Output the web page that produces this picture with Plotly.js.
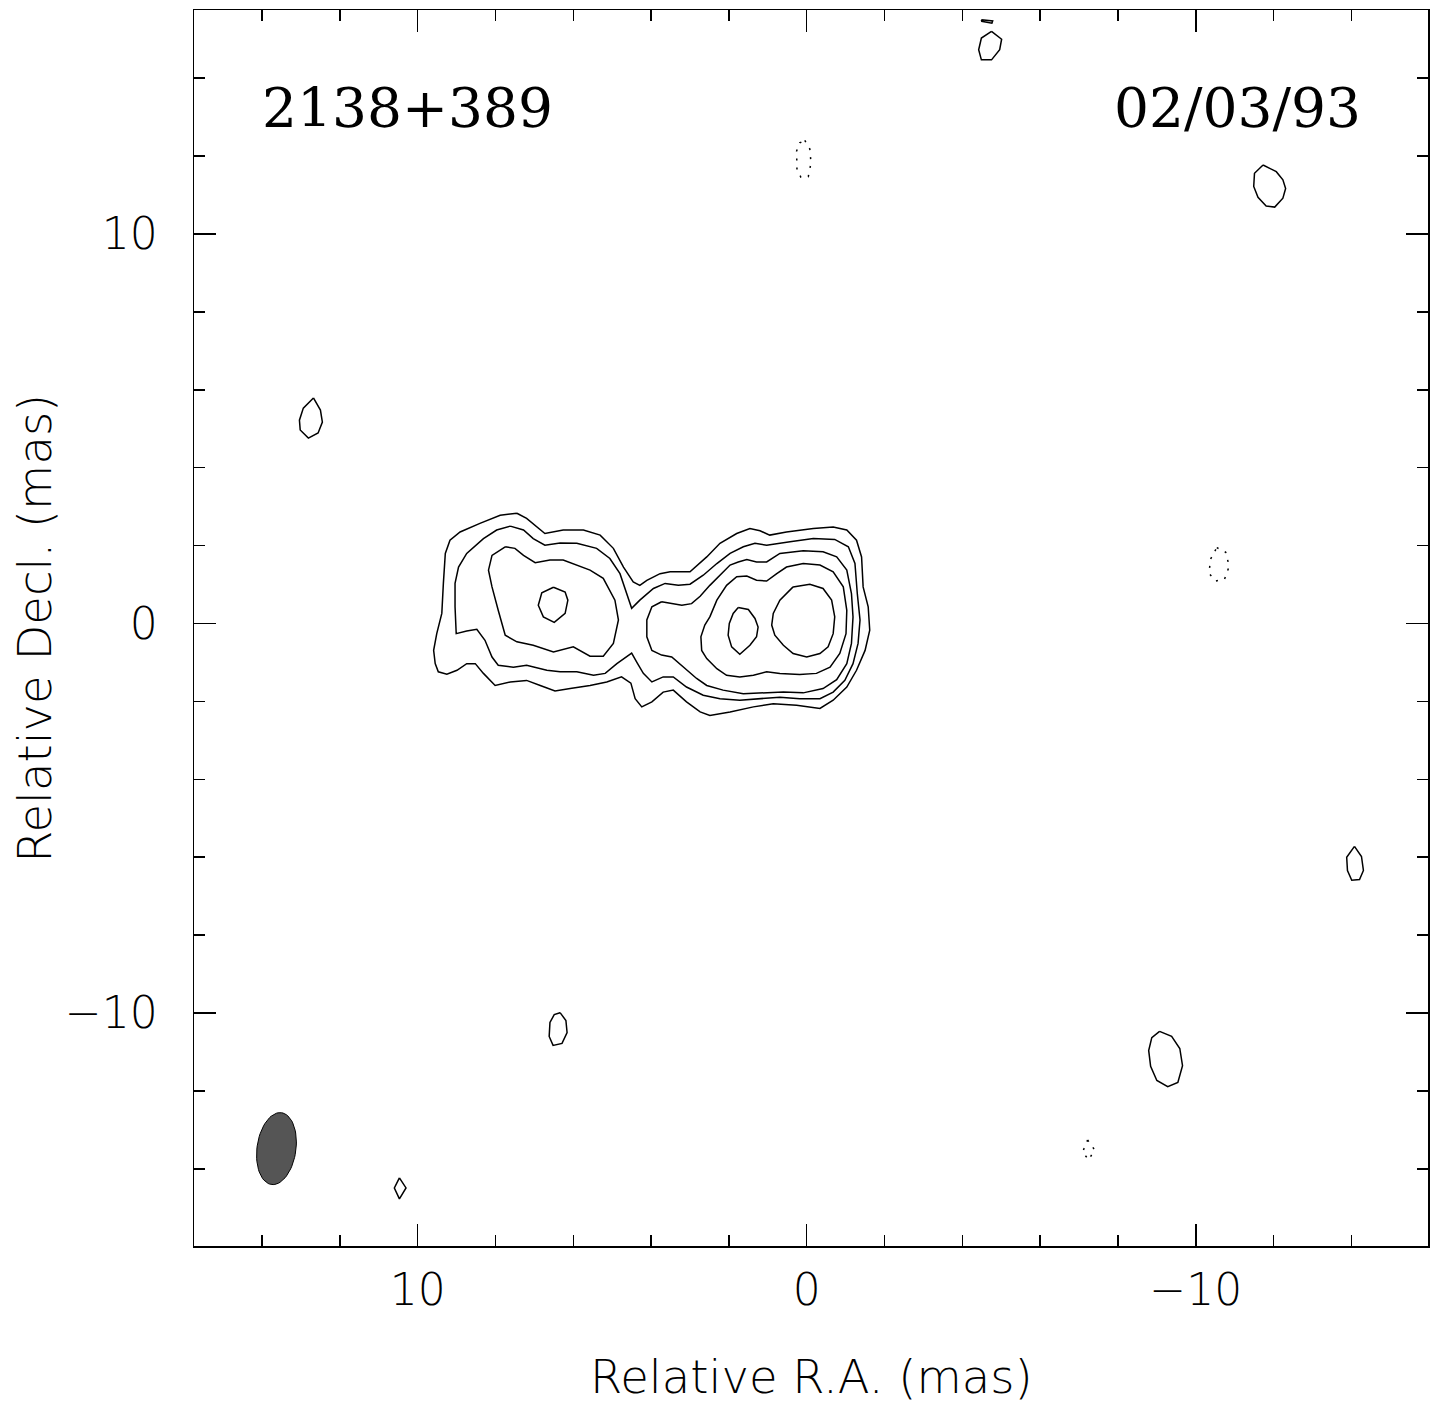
<!DOCTYPE html>
<html><head><meta charset="utf-8">
<script src="https://cdn.plot.ly/plotly-3.0.1.min.js"></script>
<style>html,body{margin:0;padding:0;background:#fff}</style>
</head><body><div id="chart" style="width:1437px;height:1404px"></div>
<script>
// ---- contour polylines (Relative R.A., Relative Decl. in mas) ----
// level 1 (outermost, whole source)
const c1X = [7.45,7.88,8.40,8.91,9.17,9.29,9.34,9.38,9.51,9.59,9.55,9.47,9.25,8.99,8.74,8.52,8.31,8.01,7.62,7.20,6.85,6.47,6.08,5.57,5.14,4.76,4.52,4.41,4.24,3.98,3.69,3.43,3.09,2.74,2.49,1.97,1.37,0.86,0.26,-0.34,-0.68,-1.03,-1.28,-1.50,-1.62,-1.58,-1.45,-1.41,-1.28,-1.03,-0.68,-0.17,0.52,0.95,1.20,1.46,1.80,2.23,2.57,3.00,3.51,3.77,4.11,4.29,4.46,4.71,4.97,5.31,5.74,6.26,6.73,6.98,7.20];
const c1Y = [2.83,2.78,2.57,2.35,2.14,1.80,1.03,0.26,-0.26,-0.69,-1.03,-1.24,-1.30,-1.20,-1.03,-1.03,-1.28,-1.59,-1.50,-1.46,-1.59,-1.73,-1.67,-1.59,-1.50,-1.37,-1.53,-1.93,-2.14,-2.01,-1.76,-1.71,-2.01,-2.27,-2.36,-2.27,-2.14,-2.06,-2.10,-2.18,-1.97,-1.63,-1.20,-0.69,-0.17,0.43,0.94,1.71,2.14,2.40,2.48,2.44,2.35,2.27,2.38,2.44,2.31,2.06,1.71,1.33,1.33,1.28,1.11,0.98,1.07,1.45,1.93,2.27,2.40,2.40,2.31,2.53,2.70];
// level 2
const c2X = [7.62,7.97,8.31,8.74,8.95,9.04,9.04,9.01,8.74,8.48,8.27,8.09,7.93,7.54,7.20,6.68,6.34,5.91,5.48,5.18,4.88,4.50,4.37,4.20,3.98,3.69,3.43,3.09,2.66,2.23,1.72,1.20,0.69,0.18,-0.34,-0.68,-0.98,-1.19,-1.32,-1.37,-1.30,-1.24,-1.07,-0.72,-0.17,0.43,1.03,1.33,1.63,1.97,2.31,2.66,3.00,3.30,3.64,3.94,4.29,4.50,4.63,4.80,5.06,5.40,5.91,6.34,6.73,7.03,7.28];
const c2Y = [2.50,2.40,2.18,1.80,1.45,1.03,0.43,-0.26,-0.19,-0.15,-0.43,-0.86,-1.07,-1.12,-1.07,-1.20,-1.24,-1.24,-1.33,-1.28,-1.03,-0.76,-0.99,-1.28,-1.50,-1.37,-1.37,-1.63,-1.84,-1.93,-1.97,-1.93,-1.89,-1.93,-1.93,-1.76,-1.46,-1.03,-0.51,0.09,0.77,1.54,1.97,2.16,2.18,2.10,2.01,2.06,1.97,1.80,1.54,1.24,1.01,0.98,1.03,0.90,0.60,0.39,0.77,1.28,1.67,1.93,2.06,2.07,2.01,2.18,2.40];
// level 3, eastern component
const c3aX = [7.75,8.09,8.18,8.09,7.93,7.75,7.45,7.03,6.51,6.00,5.57,5.23,4.97,4.84,4.93,5.23,5.57,6.00,6.26,6.60,6.98,7.28,7.50];
const c3aY = [1.97,1.75,1.37,0.94,0.34,-0.30,-0.47,-0.56,-0.73,-0.60,-0.84,-0.84,-0.51,0.09,0.60,1.16,1.37,1.54,1.63,1.63,1.56,1.75,1.93];
// level 3, core
const c3bX = [3.73,3.98,4.11,4.11,3.98,3.73,3.47,3.17,2.83,2.57,2.15,1.63,1.12,0.60,0.09,-0.42,-0.77,-1.03,-1.15,-1.19,-1.15,-1.03,-0.77,-0.42,0.09,0.69,1.03,1.29,1.54,1.76,1.97,2.23,2.49,2.74,2.96,3.21,3.51];
const c3bY = [0.56,0.43,0.09,-0.34,-0.69,-0.81,-0.86,-1.12,-1.41,-1.59,-1.71,-1.80,-1.78,-1.76,-1.78,-1.67,-1.44,-1.03,-0.51,0.17,0.77,1.37,1.71,1.84,1.87,1.80,1.58,1.58,1.64,1.58,1.50,1.24,0.98,0.70,0.51,0.47,0.53];
// level 4, eastern component
const c4aX = [6.51,6.21,6.14,6.21,6.49,6.77,6.90,6.81];
const c4aY = [0.93,0.81,0.60,0.26,0.03,0.17,0.47,0.79];
// level 4, core
const c4bX = [2.49,2.62,2.72,2.70,2.57,2.31,2.06,1.72,1.37,1.03,0.69,0.18,-0.25,-0.60,-0.85,-1.01,-1.03,-0.94,-0.68,-0.34,0.09,0.52,0.77,1.03,1.29,1.54,1.80,2.06,2.31];
const c4bY = [0.17,-0.04,-0.34,-0.69,-0.90,-1.16,-1.33,-1.37,-1.33,-1.24,-1.28,-1.31,-1.28,-1.12,-0.77,-0.26,0.34,0.94,1.33,1.50,1.54,1.45,1.28,1.09,1.11,1.22,1.20,0.98,0.60];
// level 5, two peaks in the core
const c5aX = [1.76,1.50,1.33,1.25,1.29,1.46,1.72,1.93,2.02,1.99,1.89];
const c5aY = [0.41,0.36,0.13,-0.09,-0.34,-0.56,-0.79,-0.60,-0.30,0.00,0.26];
const c5bX = [0.35,-0.08,-0.42,-0.64,-0.72,-0.68,-0.55,-0.34,0.00,0.35,0.60,0.82,0.90,0.86,0.69];
const c5bY = [0.94,1.01,0.90,0.60,0.17,-0.26,-0.60,-0.77,-0.86,-0.77,-0.56,-0.30,-0.04,0.26,0.60];
// isolated lowest-level islands
const i1X = [-4.75,-5.01,-4.96,-4.75,-4.49,-4.42,-4.49];
const i1Y = [15.20,15.00,14.73,14.47,14.47,14.73,15.03];
const i2X = [-4.49,-4.78,-4.76,-4.50];
const i2Y = [15.50,15.47,15.41,15.46];
const i3X = [-11.73,-12.07,-12.24,-12.31,-12.24,-12.03,-11.81,-11.60,-11.49,-11.51];
const i3Y = [11.77,11.60,11.39,11.17,10.92,10.69,10.72,10.94,11.22,11.56];
const i4X = [12.68,12.50,12.45,12.56,12.81,13.02,13.04,12.94];
const i4Y = [5.79,5.48,5.17,4.89,4.76,4.97,5.22,5.53];
const i5X = [6.34,6.19,6.16,6.29,6.52,6.62,6.60,6.49];
const i5Y = [-9.99,-10.19,-10.50,-10.78,-10.83,-10.60,-10.24,-10.04];
const i6X = [-9.07,-9.38,-9.59,-9.66,-9.54,-9.28,-9.00,-8.84,-8.79,-8.87];
const i6Y = [-10.47,-10.60,-10.91,-11.35,-11.78,-11.89,-11.73,-11.37,-10.96,-10.63];
const i7X = [-14.08,-14.26,-14.31,-14.21,-14.01,-13.90,-13.88];
const i7Y = [-5.72,-5.98,-6.34,-6.57,-6.59,-6.34,-6.00];
const i8X = [10.47,10.30,10.47,10.60];
const i8Y = [-14.23,-14.49,-14.77,-14.49];
// negative (dotted) contours
const n1X = [0.05,-0.08,-0.11,-0.04,0.15,0.25,0.26,0.18];
const n1Y = [12.40,12.18,11.82,11.47,11.46,11.64,12.13,12.34];
const n2X = [-10.54,-10.77,-10.86,-10.74,-10.51,-10.34,-10.38];
const n2Y = [1.95,1.83,1.47,1.14,1.09,1.29,1.65];
const n3X = [-7.22,-7.40,-7.25,-7.09];
const n3Y = [-13.26,-13.51,-13.77,-13.57];
// restoring beam (FWHM, mas; PA in degrees) and its position
const beamCenter = [13.63, -13.48];
const beamMajor = 1.86, beamMinor = 1.00, beamPA = -8;
// labels
const sourceName = '2138+389';
const epoch = '02/03/93';
const xTickVals = [10, 0, -10];
const yTickVals = [10, 0, -10];

const closeRing = a => a.concat([a[0]]);
const solid = [[c1X,c1Y],[c2X,c2Y],[c3aX,c3aY],[c3bX,c3bY],[c4aX,c4aY],[c4bX,c4bY],[c5aX,c5aY],[c5bX,c5bY],
  [i1X,i1Y],[i2X,i2Y],[i3X,i3Y],[i4X,i4Y],[i5X,i5Y],[i6X,i6Y],[i7X,i7Y],[i8X,i8Y]];
const dotted = [[n1X,n1Y],[n2X,n2Y],[n3X,n3Y]];

const traces = [];
solid.forEach(([x,y]) => traces.push({type:'scatter',mode:'lines',x:closeRing(x),y:closeRing(y),
  line:{color:'#000',width:1.5},hoverinfo:'skip',showlegend:false}));
dotted.forEach(([x,y]) => traces.push({type:'scatter',mode:'lines',x:closeRing(x),y:closeRing(y),
  line:{color:'#000',width:1.5,dash:'2px,7px'},hoverinfo:'skip',showlegend:false}));

// beam ellipse from its parameters
const bx = [], by = [];
const pa = beamPA*Math.PI/180, a = beamMajor/2, b = beamMinor/2;
for (let i = 0; i <= 72; i++) {
  const t = 2*Math.PI*i/72;
  bx.push(beamCenter[0] + a*Math.cos(t)*Math.sin(pa) + b*Math.sin(t)*Math.cos(pa));
  by.push(beamCenter[1] + a*Math.cos(t)*Math.cos(pa) - b*Math.sin(t)*Math.sin(pa));
}
traces.push({type:'scatter',mode:'lines',x:bx,y:by,fill:'toself',fillcolor:'#555555',
  line:{color:'#000',width:1},hoverinfo:'skip',showlegend:false});

const tickFont = {family:'DejaVu Sans, sans-serif', size:44, color:'#000', weight:200};
const titleFont = {family:'DejaVu Sans, sans-serif', size:46.5, color:'#000', weight:200};
const serif = {family:'DejaVu Serif, serif', size:55, color:'#000'};
const axisCommon = {
  showgrid:false, zeroline:false, showline:true, linecolor:'#000', linewidth:1.5,
  mirror:'allticks', ticks:'inside', ticklen:22, tickwidth:1.5, tickcolor:'#000',
  minor:{dtick:2, ticklen:11, tickwidth:1.5, tickcolor:'#000', ticks:'inside'},
  tickfont:tickFont, fixedrange:true
};
const layout = {
  width:1437, height:1404,
  margin:{l:194, r:9, t:10, b:158},
  paper_bgcolor:'#fff', plot_bgcolor:'#fff',
  showlegend:false,
  xaxis:Object.assign({}, axisCommon, {range:[15.75,-15.97], tickvals:xTickVals, ticklabelstandoff:5}),
  yaxis:Object.assign({}, axisCommon, {range:[-15.98,15.75], tickvals:yTickVals, ticklabelstandoff:26}),
  annotations:[
    {text:sourceName, xref:'x', yref:'y', x:14.05, y:13.24, xanchor:'left', yanchor:'middle', showarrow:false, font:serif},
    {text:epoch, xref:'x', yref:'y', x:-14.31, y:13.24, xanchor:'right', yanchor:'middle', showarrow:false, font:serif},
    {text:'Relative R.A. (mas)', xref:'paper', yref:'paper', x:0.5, y:-0.106, xanchor:'center', yanchor:'middle', showarrow:false, font:titleFont},
    {text:'Relative Decl. (mas)', xref:'paper', yref:'paper', x:-0.129, y:0.5, xanchor:'center', yanchor:'middle', textangle:-90, showarrow:false, font:titleFont}
  ]
};
Plotly.newPlot('chart', traces, layout, {displayModeBar:false, staticPlot:true});
</script></body></html>
